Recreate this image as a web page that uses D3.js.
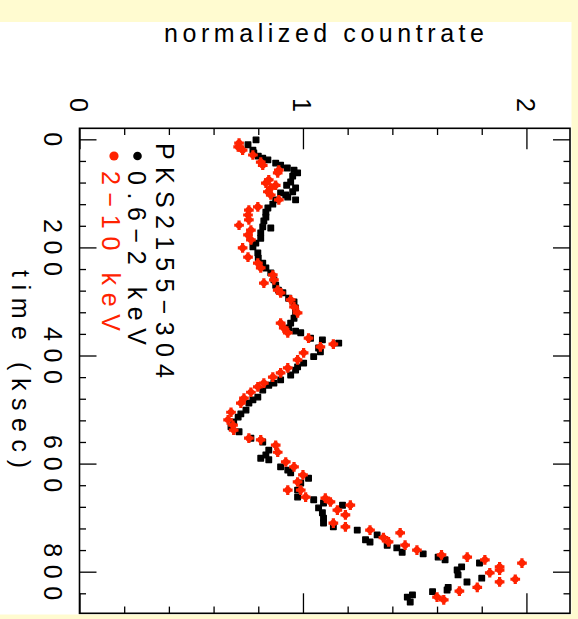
<!DOCTYPE html>
<html>
<head>
<meta charset="utf-8">
<script src="https://cdn.jsdelivr.net/npm/d3@7/dist/d3.min.js"></script>
<style>
  html, body { margin: 0; padding: 0; background: #fffbd0; }
  svg { display: block; }
  text { font-family: "Liberation Sans", "DejaVu Sans", sans-serif; }
</style>
</head>
<body>
<svg id="chart" width="578" height="619"></svg>
<script>
// ---------------- data (time in ksec, normalized countrate) ----------------
const softTime = [1,10,20,25,31,35,38,44,48,53,57,62,68,79,85,90,97,107,112,103,99,112,120,127,135,144,151,162,164,173,183,192,199,210,220,229,238,247,260,270,279,284,294,301,312,321,331,340,349,355,358,368,371,386,377,393,402,414,421,427,436,445,451,455,464,477,482,488,501,508,514,523,532,541,553,560,575,590,584,593,606,612,617,627,636,649,662,667,673,682,691,701,710,717,677,723,741,745,732,751,756,764,767,773,778,791,797,806,819,784,812,829,834,837,843,847,856];
const softRate = [0.79,0.754,0.776,0.78,0.80,0.82,0.843,0.878,0.90,0.93,0.96,0.976,0.954,0.945,0.927,0.967,0.954,0.932,0.967,0.923,0.90,0.878,0.865,0.843,0.834,0.834,0.825,0.82,0.856,0.811,0.811,0.789,0.776,0.798,0.80,0.82,0.834,0.856,0.87,0.878,0.89,0.91,0.936,0.96,0.967,0.967,0.96,0.945,0.936,0.967,0.99,1.034,1.087,1.07,1.16,1.078,1.048,1.003,0.976,0.967,0.945,0.90,0.87,0.847,0.82,0.798,0.776,0.758,0.745,0.722,0.71,0.69,0.678,0.714,0.767,0.82,0.847,0.811,0.834,0.847,0.90,0.932,0.945,1.025,0.99,0.976,0.976,1.048,1.092,1.07,1.087,1.092,1.092,1.136,1.177,1.243,1.28,1.30,1.332,1.377,1.42,1.444,1.538,1.605,1.636,1.71,1.69,1.694,1.734,1.79,1.80,1.65,1.645,1.58,1.49,1.467,1.48];

const hardTime = [7,14,20,29,42,48,57,62,75,81,85,90,97,103,112,125,131,140,149,159,168,177,186,201,218,229,238,251,260,266,279,284,297,310,321,340,349,358,368,384,379,395,408,423,432,440,451,458,468,479,488,505,519,529,538,553,556,566,579,597,606,621,634,649,649,662,664,671,686,695,677,710,717,723,728,737,745,751,760,769,773,778,791,797,784,802,814,819,829,836,847,852];
const hardRate = [0.714,0.71,0.73,0.776,0.811,0.82,0.892,0.887,0.847,0.834,0.878,0.856,0.843,0.856,0.892,0.798,0.758,0.754,0.758,0.714,0.767,0.754,0.767,0.73,0.754,0.798,0.811,0.865,0.87,0.825,0.887,0.90,0.945,0.96,0.976,0.90,0.914,0.932,1.025,1.078,1.136,1.003,0.976,0.932,0.90,0.865,0.825,0.798,0.767,0.736,0.722,0.678,0.665,0.687,0.69,0.758,0.811,0.878,0.887,0.923,0.96,1.0,0.976,0.932,0.99,1.012,1.10,1.123,1.154,1.19,1.212,1.136,1.19,1.30,1.435,1.36,1.383,1.457,1.51,1.62,1.735,1.814,1.88,1.88,1.98,1.836,1.95,1.88,1.78,1.70,1.60,1.63];

const rateMajorTicks = [0, 1, 2];
const rateMinorTicks = [0.2, 0.4, 0.6, 0.8, 1.2, 1.4, 1.6, 1.8];
const timeMajorTicks = [0, 200, 400, 600, 800];
const timeMinorTicks = [40, 80, 120, 160, 240, 280, 320, 360, 440, 480, 520, 560, 640, 680, 720, 760, 840];

const title = "normalized countrate";
const timeTitle = "time (ksec)";
const sourceName = "PKS2155\u2212304";
const softLabel = "0.6\u22122 keV";
const hardLabel = "2\u221210 keV";

// ---------------- drawing ----------------
const BLACK = "#000000", RED = "#ff2200";
const svg = d3.select("#chart");

svg.append("rect").attr("x", 0).attr("y", 0).attr("width", 578).attr("height", 619).attr("fill", "#fffbd0");
svg.append("rect").attr("x", 0).attr("y", 22).attr("width", 571.5).attr("height", 592.5).attr("fill", "#ffffff");

const L = 79.5, R = 570, T = 128.3, B = 613.3;
const x = d3.scaleLinear().domain([0, 2.195]).range([L, R]);
const y = d3.scaleLinear().domain([-20.4, 877]).range([T, B]);

// data points
const soft = softTime.map((t, i) => ({t, r: softRate[i]}));
const hard = hardTime.map((t, i) => ({t, r: hardRate[i]}));

svg.append("g").selectAll("path").data(soft).join("path")
  .attr("d", d3.symbol(d3.symbolSquare, 30))
  .attr("transform", d => `translate(${x(d.r)},${y(d.t)})`)
  .attr("fill", BLACK).attr("stroke", BLACK).attr("stroke-width", 1.4).attr("stroke-linejoin", "round");

const hg = svg.append("g").selectAll("g").data(hard).join("g")
  .attr("transform", d => `translate(${x(d.r)},${y(d.t)})`);
hg.append("circle").attr("r", 3.3).attr("fill", RED);
hg.append("path").attr("d", d3.symbol(d3.symbolCross, 52)).attr("fill", RED);

// axes (ticks inward on all four sides)
function styleAxis(g) {
  g.select(".domain").remove();
  g.selectAll(".tick line").attr("stroke", BLACK).attr("stroke-width", 1.3);
}
svg.append("g").attr("transform", `translate(0,${T})`)
  .call(d3.axisTop(x).tickValues(rateMajorTicks).tickSizeInner(-21).tickSizeOuter(0).tickFormat(""))
  .call(styleAxis);
svg.append("g").attr("transform", `translate(0,${T})`)
  .call(d3.axisTop(x).tickValues(rateMinorTicks).tickSizeInner(-6.7).tickSizeOuter(0).tickFormat(""))
  .call(styleAxis);
svg.append("g").attr("transform", `translate(0,${B})`)
  .call(d3.axisBottom(x).tickValues(rateMajorTicks).tickSizeInner(-20).tickSizeOuter(0).tickFormat(""))
  .call(styleAxis);
svg.append("g").attr("transform", `translate(0,${B})`)
  .call(d3.axisBottom(x).tickValues(rateMinorTicks).tickSizeInner(-6.7).tickSizeOuter(0).tickFormat(""))
  .call(styleAxis);
svg.append("g").attr("transform", `translate(${L},0)`)
  .call(d3.axisLeft(y).tickValues(timeMajorTicks).tickSizeInner(-17).tickSizeOuter(0).tickFormat(""))
  .call(styleAxis);
svg.append("g").attr("transform", `translate(${L},0)`)
  .call(d3.axisLeft(y).tickValues(timeMinorTicks).tickSizeInner(-6.5).tickSizeOuter(0).tickFormat(""))
  .call(styleAxis);
svg.append("g").attr("transform", `translate(${R},0)`)
  .call(d3.axisRight(y).tickValues(timeMajorTicks).tickSizeInner(-17).tickSizeOuter(0).tickFormat(""))
  .call(styleAxis);
svg.append("g").attr("transform", `translate(${R},0)`)
  .call(d3.axisRight(y).tickValues(timeMinorTicks).tickSizeInner(-6.5).tickSizeOuter(0).tickFormat(""))
  .call(styleAxis);

// frame
svg.append("rect").attr("x", L).attr("y", T).attr("width", R - L).attr("height", B - T)
  .attr("fill", "none").attr("stroke", BLACK).attr("stroke-width", 1.6);

const FS = 25;
// top tick labels (rotated)
svg.append("g").selectAll("text").data(rateMajorTicks).join("text")
  .attr("transform", d => `translate(${x(d) - 9.5},105) rotate(90)`)
  .attr("text-anchor", "middle").attr("font-size", FS).attr("fill", BLACK)
  .text(d => d3.format("d")(d));

// left tick labels (rotated)
svg.append("g").selectAll("text").data(timeMajorTicks).join("text")
  .attr("transform", d => `translate(44,${y(d)}) rotate(90)`)
  .attr("text-anchor", "middle").attr("font-size", FS).attr("fill", BLACK)
  .each(function(d) {
    const s = String(d);
    d3.select(this).text(s);
    if (s.length > 1) d3.select(this).attr("textLength", 19 * s.length).attr("lengthAdjust", "spacing");
  });

// axis titles
svg.append("text").attr("x", 164).attr("y", 42).attr("font-size", FS)
  .attr("textLength", 320).attr("lengthAdjust", "spacing").attr("fill", BLACK).text(title);
svg.append("text").attr("transform", "translate(12,270) rotate(90)").attr("font-size", FS)
  .attr("textLength", 198).attr("lengthAdjust", "spacing").attr("fill", BLACK).text(timeTitle);

// legend
svg.append("text").attr("transform", "translate(156,143) rotate(90)").attr("font-size", FS)
  .attr("textLength", 235).attr("lengthAdjust", "spacing").attr("fill", BLACK).text(sourceName);
svg.append("circle").attr("cx", 137.5).attr("cy", 156).attr("r", 4.3).attr("fill", BLACK);
svg.append("text").attr("transform", "translate(128,171) rotate(90)").attr("font-size", FS)
  .attr("textLength", 174).attr("lengthAdjust", "spacing").attr("fill", BLACK).text(softLabel);
svg.append("circle").attr("cx", 114).attr("cy", 156).attr("r", 4.6).attr("fill", RED);
svg.append("text").attr("transform", "translate(102,171) rotate(90)").attr("font-size", FS)
  .attr("textLength", 160).attr("lengthAdjust", "spacing").attr("fill", RED).text(hardLabel);
</script>
</body>
</html>
